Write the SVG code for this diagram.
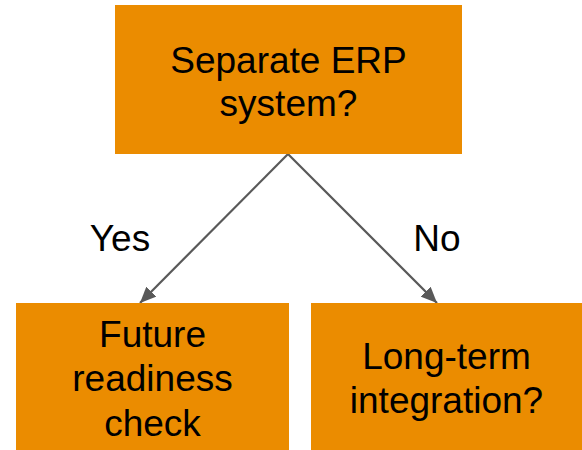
<svg xmlns="http://www.w3.org/2000/svg" width="582" height="450" viewBox="0 0 582 450">
  <style>
    .box { fill: #EB8C00; }
    .label { font-family: "Liberation Sans", Arial, sans-serif; font-size: 37px; fill: #000000; text-anchor: middle; }
    .edge { stroke: #595959; stroke-width: 2.2; fill: none; }
  </style>
  <defs>
    <marker id="arrow" viewBox="0 0 16 14" refX="16" refY="7" markerWidth="16" markerHeight="14" markerUnits="userSpaceOnUse" orient="auto">
      <path d="M0,0 L16,7 L0,14 z" fill="#595959"/>
    </marker>
  </defs>
  <rect width="582" height="450" fill="#ffffff"/>

  <g id="connectors">
    <line class="edge" x1="288" y1="154" x2="140" y2="303" marker-end="url(#arrow)"/>
    <line class="edge" x1="288" y1="154" x2="437" y2="303" marker-end="url(#arrow)"/>
    <text class="label" x="120" y="251">Yes</text>
    <text class="label" x="437" y="251">No</text>
  </g>

  <g id="erp-question">
    <rect class="box" x="115" y="5" width="347" height="149"/>
    <text class="label" x="288.5" y="73">Separate ERP</text>
    <text class="label" x="288.5" y="116">system?</text>
  </g>

  <g id="future-readiness">
    <rect class="box" x="16" y="303" width="273" height="147"/>
    <text class="label" x="152.5" y="347">Future</text>
    <text class="label" x="152.5" y="391">readiness</text>
    <text class="label" x="152.5" y="436">check</text>
  </g>

  <g id="long-term-integration">
    <rect class="box" x="311" y="303" width="271" height="147"/>
    <text class="label" x="446.5" y="369">Long-term</text>
    <text class="label" x="446.5" y="413">integration?</text>
  </g>
</svg>
